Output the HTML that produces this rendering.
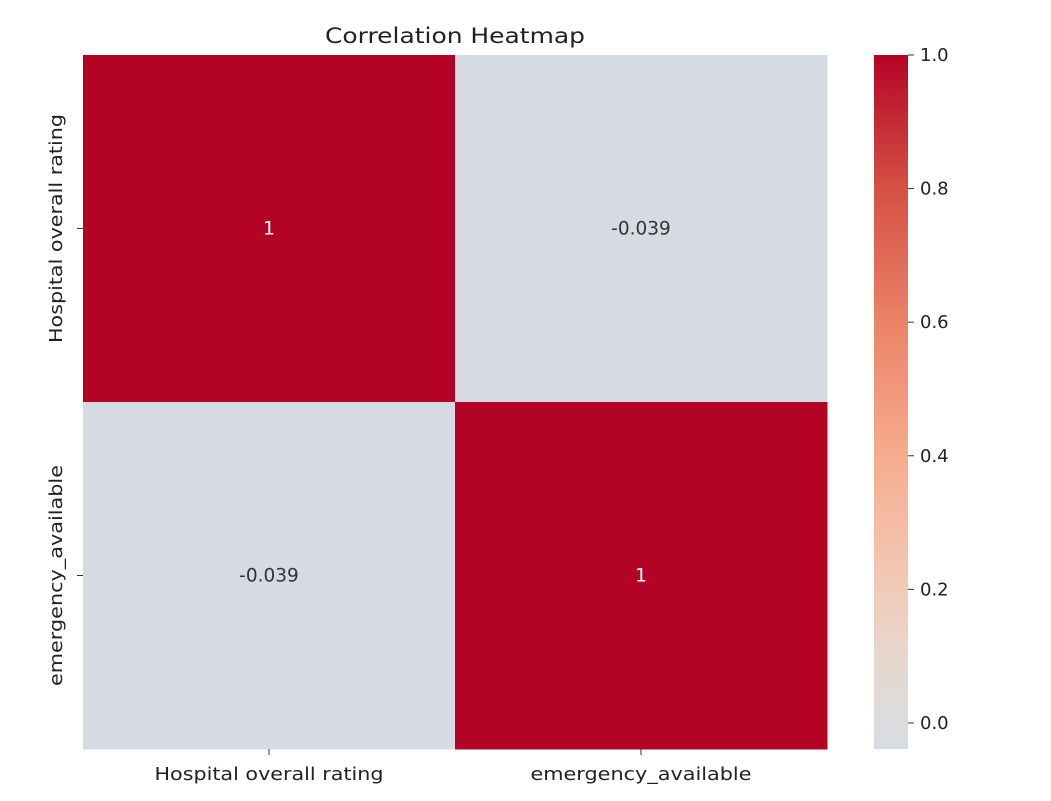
<!DOCTYPE html>
<html><head><meta charset="utf-8"><style>body{margin:0;background:#fff}svg{font-family:"DejaVu Sans","Liberation Sans",sans-serif}</style></head>
<body>
<svg id="chart" width="1051" height="796" xmlns="http://www.w3.org/2000/svg">
<defs><linearGradient id="cg" x1="0" y1="1" x2="0" y2="0">
<stop offset="0" stop-color="#d6dbe4"/><stop offset="0.04" stop-color="#dcdcdd"/>
<stop offset="0.13" stop-color="#e6d7cf"/><stop offset="0.23" stop-color="#f1cbb8"/>
<stop offset="0.42" stop-color="#f6ac8f"/><stop offset="0.61" stop-color="#ec8467"/>
<stop offset="0.81" stop-color="#d45044"/><stop offset="1" stop-color="#b40426"/>
</linearGradient></defs>
<text x="455" y="43" font-size="21" text-anchor="middle" fill="#222" textLength="260" lengthAdjust="spacingAndGlyphs">Correlation Heatmap</text>
<g id="cells"></g>
<rect x="874" y="55" width="34" height="694" fill="url(#cg)"/>
<g id="cbticks"></g>
</svg>
<script>
const labels = ["Hospital overall rating","emergency_available"];
const values = [[1,-0.039],[-0.039,1]];
const annots = [["1","-0.039"],["-0.039","1"]];
const cbTicks = [0.0,0.2,0.4,0.6,0.8,1.0];
const vmin=-0.039, vmax=1;
const ns="http://www.w3.org/2000/svg";
const X0=83,X1=827,Y0=55,Y1=749;
const cw=(X1-X0)/labels.length, ch=(Y1-Y0)/labels.length;
const labelLen={"Hospital overall rating":229,"emergency_available":221};
function color(v){ return v>0.5?"#b40426":"#d6dbe3"; }
function mk(t,a,p){const e=document.createElementNS(ns,t);for(const k in a)e.setAttribute(k,a[k]);(p||document.getElementById('chart')).appendChild(e);return e;}
const g=document.getElementById('cells');
values.forEach((row,i)=>row.forEach((v,j)=>{
 const r=mk('rect',{x:X0+j*cw,y:Y0+i*ch,width:cw+0.5,height:ch+0.5,fill:color(v)},g);
 
 
 const t=mk('text',{x:X0+(j+0.5)*cw,y:Y0+(i+0.5)*ch+6,'font-size':18.5,'text-anchor':'middle',fill:v>0.5?'#fff':'#333'},g);
 t.textContent=annots[i][j];
 
 
}));
labels.forEach((l,k)=>{
 const cx=X0+(k+0.5)*cw;
 mk('line',{x1:cx,x2:cx,y1:Y1,y2:Y1+6,stroke:'#333'});
 const t=mk('text',{x:cx,y:Y1+31,'font-size':18,'text-anchor':'middle',fill:'#222',textLength:labelLen[l],lengthAdjust:'spacingAndGlyphs'});
 t.textContent=l;
 
 
 const cy=Y0+(k+0.5)*ch;
 mk('line',{x1:X0-6,x2:X0,y1:cy,y2:cy,stroke:'#333'});
 const u=mk('text',{x:62,y:cy,'font-size':18,'text-anchor':'middle',fill:'#222',transform:`rotate(-90 62 ${cy})`,textLength:labelLen[l],lengthAdjust:'spacingAndGlyphs'});
 u.textContent=l;
 
 
});
const cg=document.getElementById('cbticks');
cbTicks.forEach(v=>{
 const y=Y1-(v-vmin)/(vmax-vmin)*(Y1-Y0);
 mk('line',{x1:908,x2:914,y1:y,y2:y,stroke:'#333'},cg);
 const t=mk('text',{x:920,y:y+6,'font-size':18,fill:'#222'},cg);
 t.textContent=v.toFixed(1);
 
 
});
</script>
</body></html>
